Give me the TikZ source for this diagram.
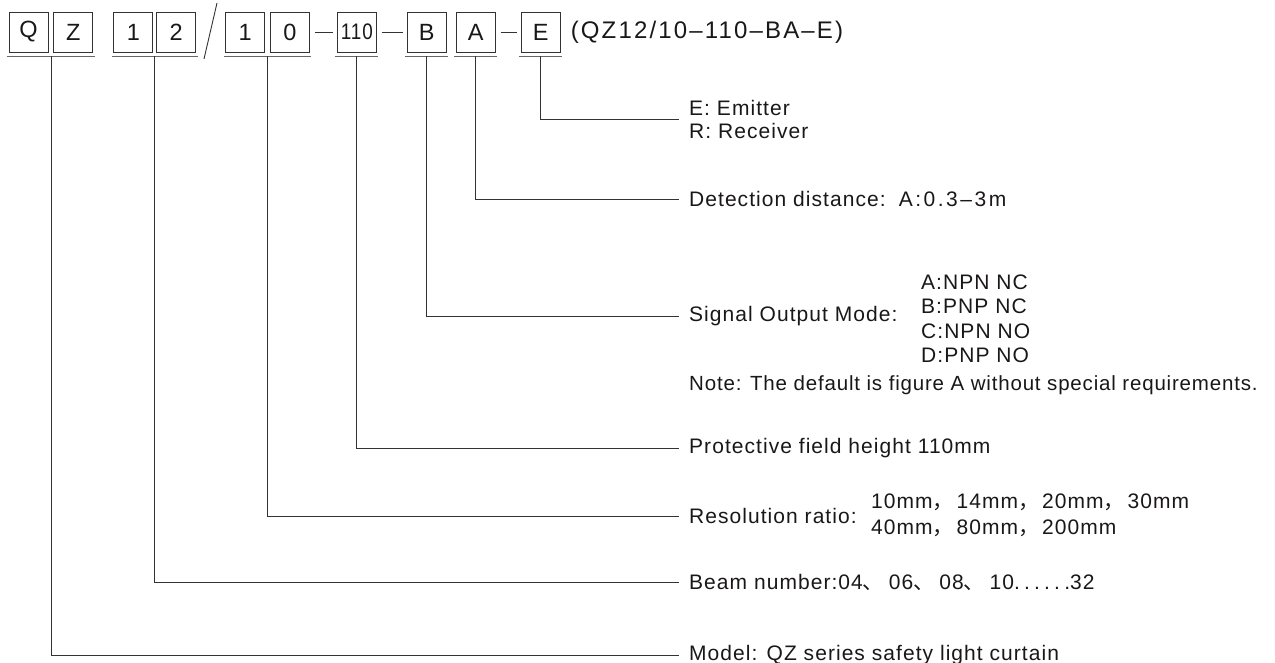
\documentclass[tikz,border=0pt]{standalone}
\usepackage{fontspec}
\setmainfont[LetterSpace=5]{Liberation Sans}
\newfontfamily\cjkfont{Noto Sans CJK SC}
\newcommand\fwcomma{{\cjkfont ，}\hspace{3pt}}
\newcommand\idcomma{{\cjkfont 、}\hspace{5pt}}
\usepackage{graphicx}
\usepackage{xcolor}
\definecolor{ink}{HTML}{1A1718}
\definecolor{wire}{HTML}{333333}
\definecolor{uline}{HTML}{666666}
\usepackage{tikz}
\usetikzlibrary{positioning}

\begin{document}
\begin{tikzpicture}[x=1pt, y=-1pt,
    node distance=5pt,
    digit/.style={draw=wire, line width=0.9pt, minimum width=39pt, minimum height=40pt,
                  inner sep=0pt, text=ink, font=\fontsize{23.5}{23.5}\selectfont},
    tag/.style={anchor=west, inner xsep=10pt, inner ysep=0pt, align=left,
                text=ink, font=\fontsize{21}{24.5}\selectfont},
    vals/.style={tag, inner xsep=0pt},
    link/.style={draw=wire, line width=0.9pt},
    under/.style={draw=uline, line width=1pt},
    dashlink/.style={link, shorten <=5pt, shorten >=4pt}
  ]
  \useasboundingbox (0,0) rectangle (1275,663);

  \node[digit] (q) at (28.5,32) {Q};
  \node[digit, right=5pt of q] (z) {Z};
  \node[digit, right=20pt of z] (n1) {1};
  \node[digit, right=3pt of n1] (n2) {2};
  \node[digit, right=29pt of n2] (r1) {1};
  \node[digit, right=5pt of r1] (r0) {0};
  \node[digit, right=27pt of r0] (ht) {\fontsize{22.5}{22.5}\selectfont\scalebox{0.84}[1]{110}};
  \node[digit, right=30pt of ht] (b) {B};
  \node[digit, right=9pt of b] (a) {A};
  \node[digit, right=25pt of a] (e) {E};
  \node[right=10pt of e, inner sep=0pt, text=ink,
        font=\fontsize{24}{24}\selectfont\addfontfeatures{LetterSpace=9}] (code)
    {(QZ12/10–110–BA–E)};

  \draw[link] (217,3) -- (204,59);
  \draw[dashlink] (r0) -- (ht);
  \draw[dashlink] (ht) -- (b);
  \draw[dashlink] (a) -- (e);

  \draw[under] ([xshift=-1.5pt,yshift=-4pt]q.south west) -- coordinate (uQZ) ([xshift=1.5pt,yshift=-4pt]z.south east);
  \draw[under] ([xshift=-1.5pt,yshift=-4pt]n1.south west) -- coordinate (u12) ([xshift=1.5pt,yshift=-4pt]n2.south east);
  \draw[under] ([xshift=-1.5pt,yshift=-4pt]r1.south west) -- coordinate (u10) ([xshift=1.5pt,yshift=-4pt]r0.south east);
  \draw[under] ([xshift=-1.5pt,yshift=-4pt]ht.south west) -- coordinate (u110) ([xshift=1.5pt,yshift=-4pt]ht.south east);
  \draw[under] ([xshift=-1.5pt,yshift=-4pt]b.south west) -- coordinate (uB) ([xshift=1.5pt,yshift=-4pt]b.south east);
  \draw[under] ([xshift=-1.5pt,yshift=-4pt]a.south west) -- coordinate (uA) ([xshift=1.5pt,yshift=-4pt]a.south east);
  \draw[under] ([xshift=-1.5pt,yshift=-4pt]e.south west) -- coordinate (uE) ([xshift=1.5pt,yshift=-4pt]e.south east);

  \node[tag, font=\fontsize{21}{23}\selectfont] (lE) at (679,119) {E: Emitter\\R: Receiver};
  \node[tag] (lA) at (679,199) {Detection distance:\hspace{4pt} {\addfontfeatures{LetterSpace=12}A:0.3–3m}};
  \node[tag] (lB) at (679,316) {Signal Output Mode:};
  \node[vals] (lBv) at (921,319) {A:NPN NC\\B:PNP NC\\C:NPN NO\\D:PNP NO};
  \node[tag, font=\fontsize{20.5}{24.5}\selectfont\addfontfeatures{LetterSpace=4}] (note) at (679,385)
    {Note: The default is figure A without special requirements.};
  \node[tag] (l110) at (679,448) {Protective field height 110mm};
  \node[tag] (l10) at (679,516) {Resolution ratio:};
  \node[vals, font=\fontsize{21}{26}\selectfont] (l10v) at (871,515)
    {10mm\fwcomma 14mm\fwcomma 20mm\fwcomma 30mm\\40mm\fwcomma 80mm\fwcomma 200mm};
  \node[tag] (l12) at (679,582)
    {Beam number:04\idcomma 06\idcomma 08\idcomma 10{\addfontfeatures{LetterSpace=20}......}32};
  \node[tag] (lQZ) at (679,655) {Model: QZ series safety light curtain};

  \draw[link] (uE) |- (lE.west);
  \draw[link] (uA) |- (lA.west);
  \draw[link] (uB) |- (lB.west);
  \draw[link] (u110) |- (l110.west);
  \draw[link] (u10) |- (l10.west);
  \draw[link] (u12) |- (l12.west);
  \draw[link] (uQZ) |- (lQZ.west);
\end{tikzpicture}
\end{document}
